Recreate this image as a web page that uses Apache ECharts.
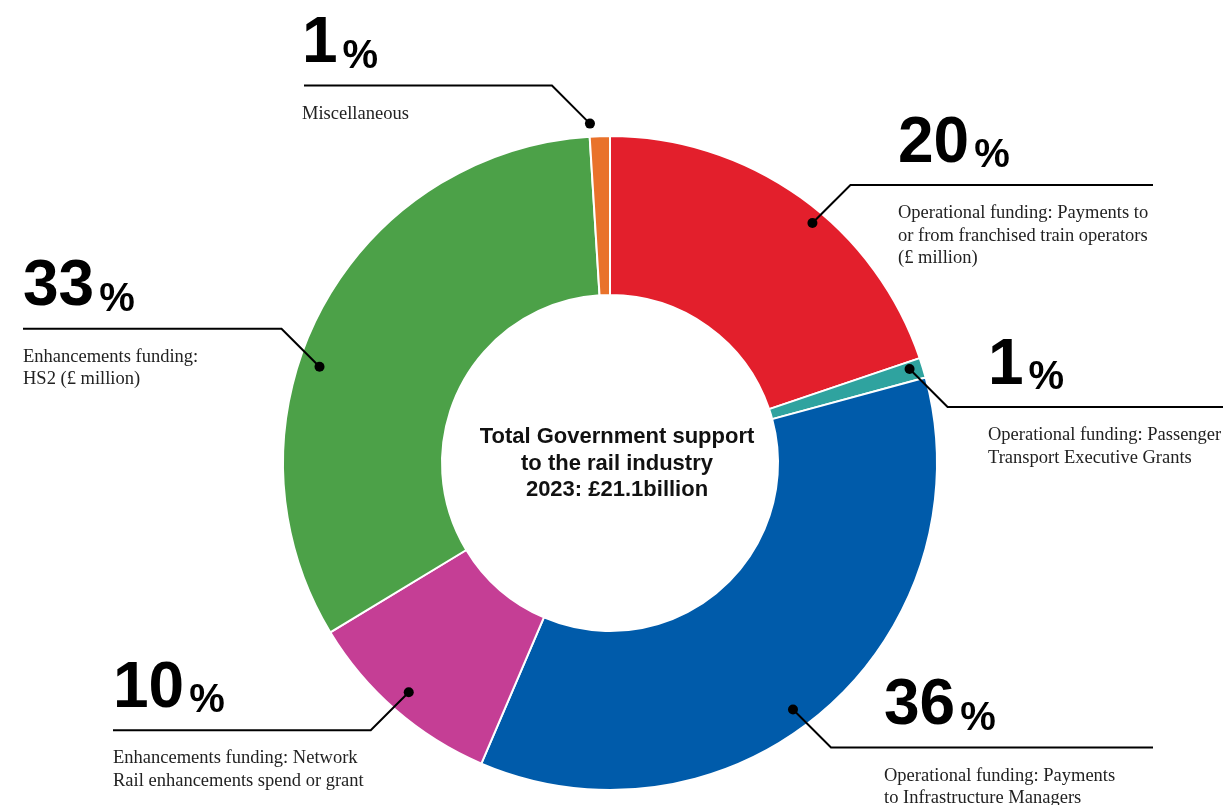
<!DOCTYPE html>
<html>
<head>
<meta charset="utf-8">
<title>Total Government support to the rail industry 2023</title>
<script src="https://cdn.jsdelivr.net/npm/echarts@6/dist/echarts.min.js"></script>
<style>
  html, body { margin: 0; padding: 0; background: #fff; }
  #chart { width: 1226px; height: 805px; }
</style>
</head>
<body>
<div id="chart"></div>
<script>
// Funding categories, in clockwise order from 12 o'clock
const categories = [
  'Operational funding: Payments to\nor from franchised train operators\n(£ million)',
  'Operational funding: Passenger\nTransport Executive Grants',
  'Operational funding: Payments\nto Infrastructure Managers',
  'Enhancements funding: Network\nRail enhancements spend or grant',
  'Enhancements funding:\nHS2 (£ million)',
  'Miscellaneous'
];
// Share of total support, percent
const shares = [20, 1, 36, 10, 33, 1];
const centerText = 'Total Government support\nto the rail industry\n2023: £21.1billion';

// Styling
const sliceColors = ['#E31F2C', '#2FA39F', '#005BAA', '#C53E95', '#4CA148', '#E9722B'];
const CX = 610, CY = 463, R_OUT = 327, R_IN = 168;
const ELBOW = 38;          // length of the diagonal part of each leader
const NUM_TO_LINE = 73;    // label top sits this far above the leader's horizontal run

// Leader/label placement per slice: anchor shift from the slice's mid-angle (deg),
// anchor radius (px), elbow direction, end of the horizontal run, label left edge
const leaderLayout = [
  { shift: 4.5,  radius: 314, dx: 1,  dy: -1, endX: 1153, labelX: 898 },
  { shift: -0.5, radius: 314, dx: 1,  dy: 1,  endX: 1223, labelX: 988 },
  { shift: 4.4,  radius: 307, dx: 1,  dy: 1,  endX: 1153, labelX: 884 },
  { shift: 0.3,  radius: 305, dx: -1, dy: 1,  endX: 113,  labelX: 113 },
  { shift: -9.3, radius: 306, dx: -1, dy: -1, endX: 23,   labelX: 23 },
  { shift: -1.6, radius: 340, dx: -1, dy: -1, endX: 304,  labelX: 302 }
];

const total = shares.reduce((a, b) => a + b, 0);
const midAngles = [];
let acc = 0;
shares.forEach(v => {
  midAngles.push((acc + v / 2) / total * 360);
  acc += v;
});

// Anchor point (dot) and elbow of each leader line
const leaders = leaderLayout.map((l, i) => {
  const a = (midAngles[i] + l.shift) * Math.PI / 180;
  const px = CX + l.radius * Math.sin(a);
  const py = CY - l.radius * Math.cos(a);
  const ex = px + l.dx * ELBOW;
  const ey = py + l.dy * ELBOW;
  return { px, py, ex, ey, endX: l.endX, labelX: l.labelX };
});

const chart = echarts.init(document.getElementById('chart'), null, { renderer: 'canvas' });

const option = {
  backgroundColor: '#ffffff',
  animation: false,
  series: [{
    type: 'pie',
    center: [CX, CY],
    radius: [R_IN, R_OUT],
    startAngle: 90,
    clockwise: true,
    avoidLabelOverlap: false,
    data: shares.map((v, i) => ({
      name: categories[i],
      value: v,
      itemStyle: { color: sliceColors[i] }
    })),
    itemStyle: { borderColor: '#ffffff', borderWidth: 2 },
    emphasis: { disabled: true },
    label: {
      show: true,
      position: 'outside',
      formatter: p => {
        const desc = categories[p.dataIndex].split('\n').map(s => '{desc|' + s + '}').join('\n');
        return '{num|' + shares[p.dataIndex] + '}{pct|%}\n{gap| }\n' + desc;
      },
      rich: {
        num: {
          fontFamily: 'Liberation Sans, Arial, sans-serif',
          fontWeight: 'bold', fontSize: 64, lineHeight: 64, color: '#000'
        },
        pct: {
          fontFamily: 'Liberation Sans, Arial, sans-serif',
          fontWeight: 'bold', fontSize: 40, lineHeight: 49,
          verticalAlign: 'bottom', padding: [0, 0, 0, 5], color: '#000'
        },
        gap: { fontSize: 10, lineHeight: 26, height: 26 },
        desc: {
          fontFamily: 'Liberation Serif, Times New Roman, serif',
          fontSize: 18.5, lineHeight: 22.5, color: '#222'
        }
      }
    },
    labelLine: { show: false },
    labelLayout: params => {
      const l = leaders[params.dataIndex];
      return {
        x: l.labelX,
        y: l.ey - NUM_TO_LINE,
        align: 'left',
        verticalAlign: 'top'
      };
    }
  }],
  graphic: [
    {
      type: 'text',
      x: 617, y: 463.5,
      z: 10,
      style: {
        text: centerText,
        align: 'center',
        verticalAlign: 'middle',
        fontFamily: 'Liberation Sans, Arial, sans-serif',
        fontWeight: 'bold',
        fontSize: 22,
        lineHeight: 26.5,
        fill: '#111'
      }
    }
  ].concat(leaders.map(l => ({
    type: 'polyline',
    z: 20,
    shape: { points: [[l.px, l.py], [l.ex, l.ey], [l.endX, l.ey]] },
    style: { stroke: '#000', lineWidth: 2, fill: null }
  }))).concat(leaders.map(l => ({
    type: 'circle',
    z: 21,
    shape: { cx: l.px, cy: l.py, r: 5 },
    style: { fill: '#000' }
  })))
};

chart.setOption(option);
</script>
</body>
</html>
